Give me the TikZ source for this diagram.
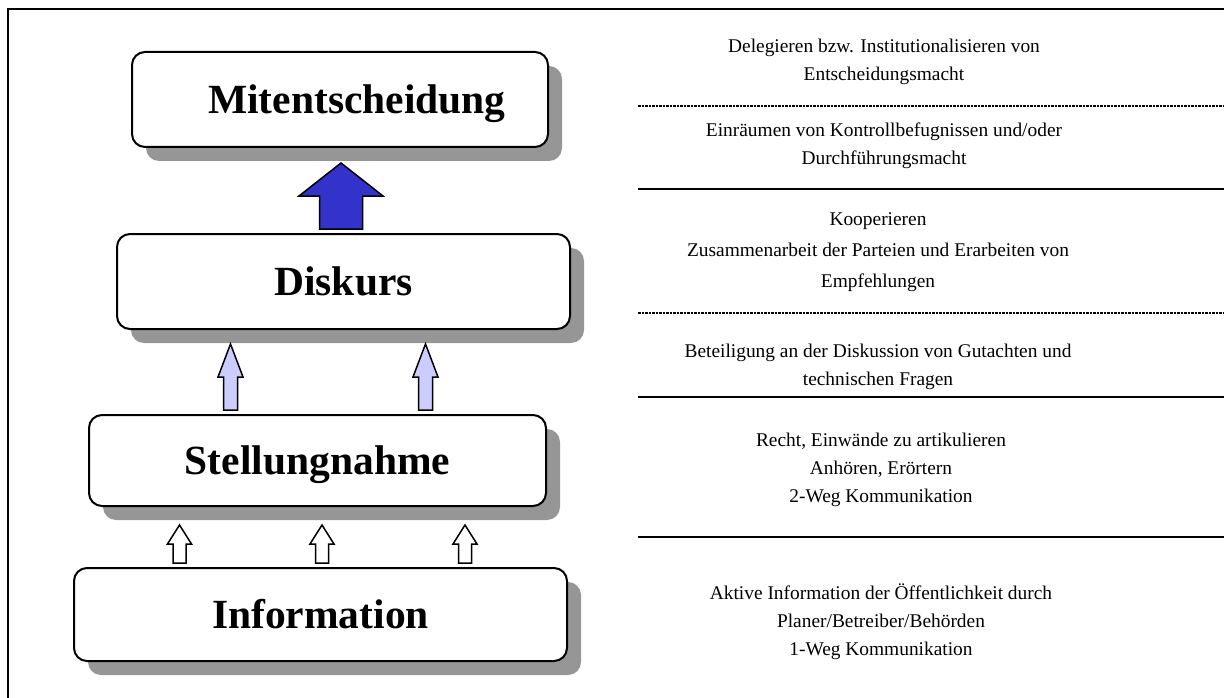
\documentclass[tikz,border=0pt]{standalone}
\usepackage{fontspec}
\setmainfont{Liberation Serif}
\usetikzlibrary{shadows,calc}
\definecolor{shadowgray}{HTML}{969696}
\definecolor{darkblue}{HTML}{3333CC}
\definecolor{lightblue}{HTML}{CCCCFF}
% #1 style, #2 x (pt), #3 lower node, #4 upper node, #5 shaft half width, #6 head half width, #7 gap below upper node
\newcommand{\UpArr}[7]{%
  \draw[#1] let \p1=(#3.north), \p2=(#4.south), \n1={\y1+4pt}, \n2={\y2-#7pt}, \n3={(\n1+\n2)/2} in
    ({#2pt-#5pt},\n1) -- ({#2pt-#5pt},\n3) -- ({#2pt-#6pt},\n3) -- (#2pt,\n2) --
    ({#2pt+#6pt},\n3) -- ({#2pt+#5pt},\n3) -- ({#2pt+#5pt},\n1) -- cycle;}
\begin{document}
\begin{tikzpicture}[x=1pt,y=-1pt,
  level/.style={draw, line width=2pt, rounded corners=13pt, fill=white,
    font=\fontsize{41.5}{48}\selectfont\bfseries, inner sep=0pt,
    text height=27.4pt, text depth=0pt,
    drop shadow={shadow xshift=14pt, shadow yshift=-14pt, fill=shadowgray, opacity=1}},
  desc/.style={anchor=north, align=center, inner sep=0pt, font=\fontsize{19.4}{28}\selectfont},
  sepline/.style={line width=2.5pt},
  sepdot/.style={line width=2.3pt, dash pattern=on 2.5pt off 1pt},
  bigarr/.style={draw, line width=1.5pt, fill=darkblue, line join=miter},
  midarr/.style={draw, line width=1.5pt, fill=lightblue, line join=miter},
  smallarr/.style={draw, line width=1.5pt, fill=white, line join=miter}]
\useasboundingbox (0,0) rectangle (1224,698);
% frame
\draw[line width=2pt] (8,700) -- (8,9) -- (1226,9);
% level boxes
\node[level, minimum width=416pt, minimum height=95pt] (mit) at (340,99.5) {\hspace*{34pt}Mitentscheidung};
\node[level, minimum width=453pt, minimum height=95pt] (dis) at (343.5,281.5) {Diskurs};
\node[level, minimum width=457pt, minimum height=91pt] (stel) at (317.5,460.5) {Stellungnahme};
\node[level, minimum width=493pt, minimum height=93pt] (info) at (320.5,614.5) {Information};
% block arrows
\UpArr{bigarr}{341}{dis}{mit}{21.5}{42}{15}
\UpArr{midarr}{230.5}{stel}{dis}{7}{12.5}{14}
\UpArr{midarr}{425.5}{stel}{dis}{7}{12.5}{14}
\UpArr{smallarr}{179.5}{info}{stel}{6.5}{12}{18}
\UpArr{smallarr}{322}{info}{stel}{6.5}{12}{18}
\UpArr{smallarr}{465}{info}{stel}{6.5}{12}{18}
% separators
\coordinate (s1a) at (638,106); \coordinate (s1b) at (1226,106);
\coordinate (s2a) at (638,189); \coordinate (s2b) at (1226,189);
\coordinate (s3a) at (638,313); \coordinate (s3b) at (1226,313);
\coordinate (s4a) at (638,397); \coordinate (s4b) at (1226,397);
\coordinate (s5a) at (638,537); \coordinate (s5b) at (1226,537);
\draw[sepdot] (s1a) -- (s1b);
\draw[sepline] (s2a) -- (s2b);
\draw[sepdot] (s3a) -- (s3b);
\draw[sepline] (s4a) -- (s4b);
\draw[sepline] (s5a) -- (s5b);
% descriptions
\node[desc] (t1) at (884,32.7) {\strut Delegieren bzw. Institutionalisieren von\\\strut Entscheidungsmacht};
\node[desc] (t2) at (884,116.4) {\strut Einräumen von Kontrollbefugnissen und/oder\\\strut Durchführungsmacht};
\node[desc, font=\fontsize{19.4}{31}\selectfont] (t3) at (878,203.3) {\strut Kooperieren\\\strut Zusammenarbeit der Parteien und Erarbeiten von\\\strut Empfehlungen};
\node[desc] (t4) at (878,337.4) {\strut Beteiligung an der Diskussion von Gutachten und\\\strut technischen Fragen};
\node[desc] (t5) at (881,426.4) {\strut Recht, Einwände zu artikulieren\\\strut Anhören, Erörtern\\\strut 2-Weg Kommunikation};
\node[desc] (t6) at (881,579.4) {\strut Aktive Information der Öffentlichkeit durch\\\strut Planer/Betreiber/Behörden\\\strut 1-Weg Kommunikation};
\end{tikzpicture}
\end{document}
